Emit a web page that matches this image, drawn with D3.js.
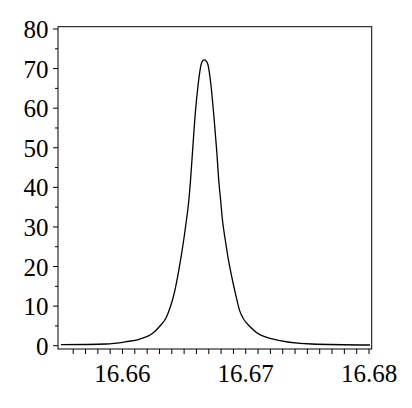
<!DOCTYPE html>
<html><head><meta charset="utf-8">
<script src="https://cdn.jsdelivr.net/npm/d3@7"></script>
<style>body{margin:0;background:#fff} text{font-family:"Liberation Serif","Times New Roman",serif;font-size:25px;fill:#000}</style>
</head><body>
<svg id="c" width="412" height="408"></svg>
<script>
const xValues = [16.65501,16.65866,16.66028,16.66136,16.66245,16.66304,16.66353,16.66385,16.66410,16.66434,16.66457,16.66479,16.66499,16.66519,16.66536,16.66550,16.66569,16.66588,16.66615,16.66637,16.66649,16.66664,16.66679,16.66694,16.66716,16.66742,16.66764,16.66783,16.66796,16.66811,16.66834,16.66860,16.66892,16.66921,16.66949,16.67048,16.67197,16.67535,16.68008];
const yValues = [0.25,0.43,1.01,1.62,3.13,4.98,7.0,9.52,12.05,15.33,19.12,23.16,27.2,31.75,36.05,41.0,49.4,57.8,66.3,70.9,71.9,72.2,71.9,70.9,66.3,57.8,49.4,41.0,36.8,31.75,26.7,21.6,16.6,12.55,9.0,4.4,1.87,0.43,0.18];
const xTickLabels = ["16.66","16.67","16.68"];
const xTickValues = [16.66,16.67,16.68];
const yTickValues = [0,10,20,30,40,50,60,70,80];

const svg = d3.select("#c");
const L = 58, R = 371.7, T = 26.7, B = 349;
const x = d3.scaleLinear().domain([16.654767, 16.680219]).range([L, R]);
const y = d3.scaleLinear().domain([-0.83, 80.58]).range([B, T]);

svg.append("rect").attr("x", L).attr("y", T).attr("width", R - L).attr("height", B - T)
  .attr("fill", "none").attr("stroke", "#000").attr("stroke-width", 1);

const xMinor = d3.range(16.656, 16.6805, 0.001);
svg.append("g").selectAll("line").data(xMinor).join("line")
  .attr("x1", d => x(d)).attr("x2", d => x(d))
  .attr("y1", B).attr("y2", B + 5).attr("stroke", "#000").attr("stroke-width", 1);
svg.append("g").selectAll("text").data(xTickValues).join("text")
  .attr("x", d => x(d)).attr("y", 382).attr("text-anchor", "middle")
  .text((d, i) => xTickLabels[i]);

const yMinor = d3.range(5, 80, 10);
svg.append("g").selectAll("line").data(yMinor).join("line")
  .attr("x1", L - 3).attr("x2", L).attr("y1", d => y(d)).attr("y2", d => y(d))
  .attr("stroke", "#000").attr("stroke-width", 1);
svg.append("g").selectAll("line").data(yTickValues).join("line")
  .attr("x1", L - 5).attr("x2", L).attr("y1", d => y(d)).attr("y2", d => y(d))
  .attr("stroke", "#000").attr("stroke-width", 1);
svg.append("g").selectAll("text").data(yTickValues).join("text")
  .attr("x", 48.5).attr("y", d => y(d) + 9).attr("text-anchor", "end")
  .text(d => d);

const pts = xValues.map((v, i) => [v, yValues[i]]);
svg.append("path").datum(pts)
  .attr("d", d3.line().x(d => x(d[0])).y(d => y(d[1])).curve(d3.curveMonotoneX))
  .attr("fill", "none").attr("stroke", "#000").attr("stroke-width", 1.3);
</script>
</body></html>
